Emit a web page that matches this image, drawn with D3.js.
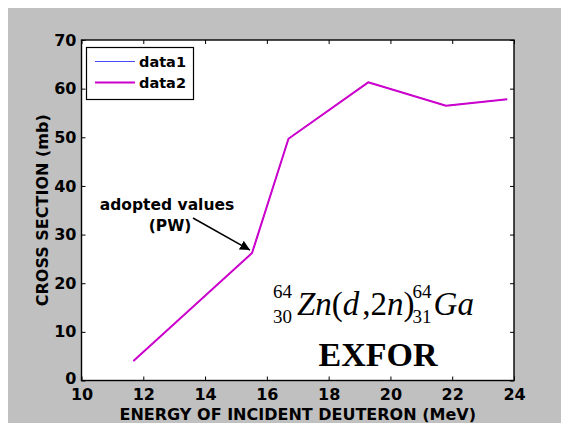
<!DOCTYPE html>
<html>
<head>
<meta charset="utf-8">
<script src="https://cdn.jsdelivr.net/npm/d3@7"></script>
<style>
  html, body { margin: 0; padding: 0; background: #ffffff; }
  svg { display: block; }
  .tick text { font-family: "DejaVu Sans", sans-serif; font-weight: bold; font-size: 16px; fill: #000; }
</style>
</head>
<body>
<svg id="chart" width="561" height="423"></svg>
<script>
// Cross section of 64Zn(d,2n)64Ga versus deuteron energy
const energy = [11.68, 15.52, 16.70, 19.28, 21.80, 23.78];   // MeV
const data1 = [4.0, 26.2, 49.7, 61.3, 56.5, 57.8];            // mb
const data2 = [4.0, 26.2, 49.7, 61.3, 56.5, 57.8];            // mb
const seriesNames = ["data1", "data2"];
const xTicks = [10, 12, 14, 16, 18, 20, 22, 24];
const yTicks = [0, 10, 20, 30, 40, 50, 60, 70];

const svg = d3.select("#chart");
const W = 561, H = 423;
const plot = { left: 81.5, right: 514, top: 40, bottom: 380.5 };

// figure background
svg.append("rect").attr("x", 8).attr("y", 8).attr("width", W - 8).attr("height", H - 8)
  .attr("fill", "#c0c0c0");

const x = d3.scaleLinear().domain([10, 24]).range([plot.left, plot.right]);
const y = d3.scaleLinear().domain([0, 70]).range([plot.bottom, plot.top]);

// axes area
svg.append("rect").attr("x", plot.left).attr("y", plot.top)
  .attr("width", plot.right - plot.left).attr("height", plot.bottom - plot.top)
  .attr("fill", "#ffffff");

const tickLen = 4;
const gB = svg.append("g").attr("transform", `translate(0,${plot.bottom})`)
  .call(d3.axisBottom(x).tickValues(xTicks).tickSize(-tickLen).tickPadding(8.5).tickFormat(d3.format("d")));
const gL = svg.append("g").attr("transform", `translate(${plot.left},0)`)
  .call(d3.axisLeft(y).tickValues(yTicks).tickSize(-tickLen).tickPadding(5).tickFormat(d3.format("d")));
const gT = svg.append("g").attr("transform", `translate(0,${plot.top})`)
  .call(d3.axisTop(x).tickValues(xTicks).tickSize(-tickLen).tickFormat(""));
const gR = svg.append("g").attr("transform", `translate(${plot.right},0)`)
  .call(d3.axisRight(y).tickValues(yTicks).tickSize(-tickLen).tickFormat(""));
[gB, gL, gT, gR].forEach(g => {
  g.select(".domain").remove();
  g.selectAll(".tick line").attr("stroke", "#000").attr("stroke-width", 1);
});
// the zero label sits just above the x-axis labels
gL.selectAll(".tick text").filter(d => d === 0).attr("dy", "0.2em");

// box
svg.append("rect").attr("x", plot.left).attr("y", plot.top)
  .attr("width", plot.right - plot.left).attr("height", plot.bottom - plot.top)
  .attr("fill", "none").attr("stroke", "#000").attr("stroke-width", 1.4);

// series
const line = d3.line().x(d => x(d[0])).y(d => y(d[1]));
svg.append("path").datum(d3.zip(energy, data1)).attr("d", line)
  .attr("fill", "none").attr("stroke", "#4848ff").attr("stroke-width", 1);
svg.append("path").datum(d3.zip(energy, data2)).attr("d", line)
  .attr("fill", "none").attr("stroke", "#cc00cc").attr("stroke-width", 2)
  .attr("stroke-linejoin", "round");

// axis titles
svg.append("text").attr("x", (plot.left + plot.right) / 2).attr("y", 419.5)
  .attr("text-anchor", "middle")
  .style("font-family", "DejaVu Sans, sans-serif").style("font-weight", "bold").style("font-size", "16px")
  .text("ENERGY OF INCIDENT DEUTERON (MeV)");
svg.append("text").attr("transform", `translate(47.5,${(plot.top + plot.bottom) / 2}) rotate(-90)`)
  .attr("text-anchor", "middle")
  .style("font-family", "DejaVu Sans, sans-serif").style("font-weight", "bold").style("font-size", "16px")
  .text("CROSS SECTION (mb)");

// legend
const leg = svg.append("g");
leg.append("rect").attr("x", 86.5).attr("y", 47.5).attr("width", 107).attr("height", 52)
  .attr("fill", "#fff").attr("stroke", "#000").attr("stroke-width", 1.2);
const legColors = ["#4848ff", "#cc00cc"], legWidths = [1.2, 2], legY = [61.5, 82.5];
seriesNames.forEach((name, i) => {
  leg.append("line").attr("x1", 95).attr("x2", 135).attr("y1", legY[i]).attr("y2", legY[i])
    .attr("stroke", legColors[i]).attr("stroke-width", legWidths[i]);
  leg.append("text").attr("x", 139).attr("y", legY[i]).attr("dy", "0.36em")
    .style("font-family", "DejaVu Sans, sans-serif").style("font-weight", "bold").style("font-size", "14.5px")
    .text(name);
});

// annotation for the adopted values
const ann = svg.append("g")
  .style("font-family", "DejaVu Sans, sans-serif").style("font-weight", "bold").style("font-size", "15.5px");
ann.append("text").attr("x", 167).attr("y", 209.5).attr("text-anchor", "middle").text("adopted values");
ann.append("text").attr("x", 170).attr("y", 230.5).attr("text-anchor", "middle").text("(PW)");
svg.append("defs").append("marker").attr("id", "arrow")
  .attr("viewBox", "0 0 10 10").attr("refX", 10).attr("refY", 5)
  .attr("markerWidth", 10).attr("markerHeight", 10).attr("markerUnits", "userSpaceOnUse")
  .attr("orient", "auto")
  .append("path").attr("d", "M0,0 L10,5 L0,10 z").attr("fill", "#000");
svg.append("line").attr("x1", 193).attr("y1", 218).attr("x2", x(energy[1]) - 2).attr("y2", y(data2[1]) - 3)
  .attr("stroke", "#000").attr("stroke-width", 1.5).attr("marker-end", "url(#arrow)");

// reaction label
const serif = "'Liberation Serif', 'Times New Roman', serif";
const rx = 273, rBase = 315;
const rg = svg.append("g").style("font-family", serif);
rg.append("text").attr("x", rx).attr("y", 298).style("font-size", "19px").text("64");
rg.append("text").attr("x", rx).attr("y", 323).style("font-size", "19px").text("30");
const main1 = rg.append("text").attr("x", rx + 24).attr("y", rBase).style("font-size", "33px")
  .style("font-style", "italic");
main1.append("tspan").text("Zn");
main1.append("tspan").style("font-style", "normal").text("(");
main1.append("tspan").text("d");
main1.append("tspan").attr("dx", 3).style("font-style", "normal").text(",2");
main1.append("tspan").text("n");
main1.append("tspan").style("font-style", "normal").text(")");
const endX = rx + 24 + main1.node().getComputedTextLength();
rg.append("text").attr("x", endX + 1).attr("y", 298).style("font-size", "19px").text("64");
rg.append("text").attr("x", endX + 1).attr("y", 323).style("font-size", "19px").text("31");
rg.append("text").attr("x", endX + 22).attr("y", rBase).style("font-size", "33px")
  .style("font-style", "italic").text("Ga");

svg.append("text").attr("x", 378).attr("y", 366).attr("text-anchor", "middle")
  .style("font-family", serif).style("font-weight", "bold").style("font-size", "34px")
  .text("EXFOR");
</script>
</body>
</html>
